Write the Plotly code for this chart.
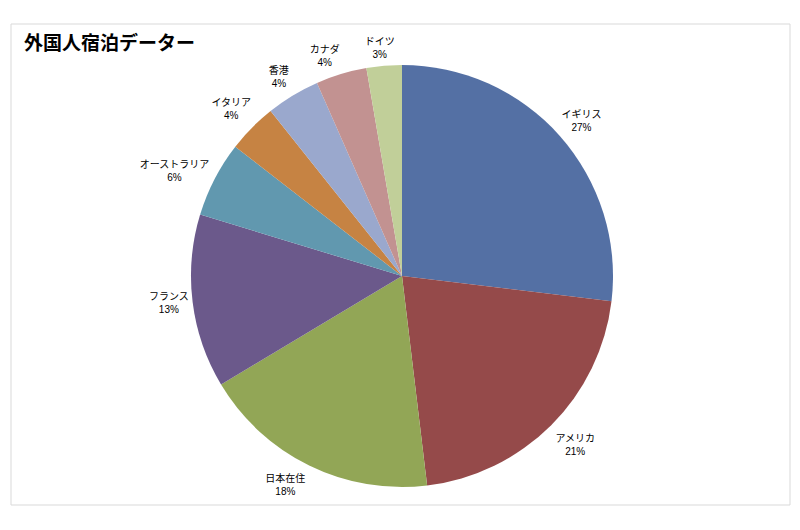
import plotly.graph_objects as go

# 外国人宿泊データー (割合)
paises = ['イギリス', 'アメリカ', '日本在住', 'フランス', 'オーストラリア',
          'イタリア', '香港', 'カナダ', 'ドイツ']
valores = [26.9, 21.2, 18.3, 13.3, 5.8, 3.8, 4.1, 3.9, 2.7]
cores = ['#5470A4', '#954A4A', '#92A656', '#6B598B', '#6198AF',
         '#C68343', '#9AA8CD', '#C29291', '#C1CF99']

fonte = "Noto Sans CJK JP, sans-serif"
fonte_rotulo = "Liberation Sans, Noto Sans CJK JP, sans-serif"

# a janela tem 8px de margem no body, por isso tudo vai deslocado 8px
cx, cy, raio = 394, 268, 211

# ajuste fino de cada rótulo: (raio do traço do rótulo, rotação em graus)
ajuste_rotulo = {
    'イギリス': (214, -2.6),
    'アメリカ': (219, 2.7),
    '日本在住': (218, -1.6),
    'フランス': (209, -0.4),
    'オーストラリア': (213, 1.4),
    'イタリア': (216, 3.2),
    '香港': (218, 1.7),
    'カナダ': (216, 1.7),
    'ドイツ': (216, 4.5),
}


def dominio(r):
    return dict(x=[(cx - r) / 800, (cx + r) / 800],
                y=[1 - (cy + r) / 530, 1 - (cy - r) / 530])


fig = go.Figure()

# pizza principal, sem texto
fig.add_trace(go.Pie(
    labels=paises,
    values=valores,
    sort=False,
    direction='clockwise',
    rotation=0,
    marker=dict(colors=cores, line=dict(width=0)),
    textinfo='none',
    domain=dominio(raio),
    showlegend=False,
    hoverinfo='label+percent'
))

# um traço transparente por rótulo, assim o plotly não empurra os rótulos
for i, nome in enumerate(paises):
    posicoes = ['none'] * len(paises)
    posicoes[i] = 'outside'
    r_rotulo, rot = ajuste_rotulo[nome]
    fig.add_trace(go.Pie(
        labels=paises,
        values=valores,
        sort=False,
        direction='clockwise',
        rotation=rot,
        marker=dict(colors=['rgba(0,0,0,0)'] * len(paises), line=dict(width=0)),
        texttemplate='%{label}<br>%{percent:.0%}',
        textposition=posicoes,
        textfont=dict(size=10, color='#000000', family=fonte_rotulo),
        domain=dominio(r_rotulo),
        showlegend=False,
        hoverinfo='skip'
    ))

fig.update_layout(
    width=800,
    height=530,
    margin=dict(l=0, r=0, t=0, b=0),
    paper_bgcolor='white',
    plot_bgcolor='white',
    font=dict(family=fonte, color='#000000'),
    annotations=[dict(
        text='<b>外国人宿泊データー</b>',
        x=14 / 800, y=1 - 34 / 530,
        xref='paper', yref='paper',
        xanchor='left', yanchor='middle',
        showarrow=False,
        font=dict(size=19, family=fonte, color='#000000')
    )],
    shapes=[dict(
        type='rect', xref='paper', yref='paper',
        x0=3 / 800, x1=782 / 800, y0=1 - 497 / 530, y1=1 - 16 / 530,
        line=dict(color='#D9D9D9', width=1)
    )]
)

fig.write_html("out.html")
